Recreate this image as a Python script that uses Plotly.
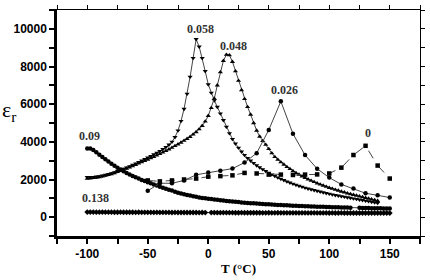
import plotly.graph_objects as go

# Temperature grid (°C)
T_dense = [-100, -97.5, -95, -92.5, -90, -87.5, -85, -82.5, -80, -77.5, -75, -72.5, -70, -67.5, -65,
           -62.5, -60, -57.5, -55, -52.5, -50, -47.5, -45, -42.5, -40, -37.5, -35, -32.5, -30, -27.5,
           -25, -22.5, -20, -17.5, -15, -12.5, -10, -7.5, -5, -2.5, 0, 2.5, 5, 7.5, 10, 12.5, 15, 17.5,
           20, 22.5, 25, 27.5, 30, 32.5, 35, 37.5, 40, 42.5, 45, 47.5, 50, 52.5, 55, 57.5, 60, 62.5, 65,
           67.5, 70, 72.5, 75, 77.5, 80, 82.5, 85, 87.5, 90, 92.5, 95, 97.5, 100, 102.5, 105, 107.5, 110,
           112.5, 115, 117.5, 120, 122.5, 125, 127.5, 130, 132.5, 135, 137.5, 140, 142.5, 145, 147.5, 150]
T_sparse = [-50, -40, -30, -20, -10, 0, 10, 20, 30, 40, 50, 60, 70, 80, 90, 100, 110, 120, 130, 140, 150]

eps_0138 = [270, 268, 270, 267, 266, 268, 265, 264, 266, 263, 262, 264, 261, 260, 262, 259, 258, 260, 257, 256, 258,
            255, 254, 256, 253, 252, 254, 251, 250, 252, 249, 248, 250, 247, 246, 248, 245, 244, 246, 243, None,
            242, 244, 241, 240, 242, 239, 238, 240, 237, 236, 238, 235, 234, 236, 233, 232, 234, 231, 230, 232,
            231, 230, 232, 229, 230, 231, 229, 228, 230, 227, 228, 229, 227, 226, 228, 225, 226, 227, 225, 224,
            226, 224, 223, 225, 222, 223, 224, 222, 221, 223, 220, 221, 222, 220, 219, 221, 218, 219, 220, 218]

eps_009 = [3650, 3640, 3570, 3450, 3310, 3190, 3070, 2950, 2840, 2730, 2630, 2530, 2440, 2350, 2270, 2190, 2120, 2050, 1980, 1920, 1860,
           1800, 1740, 1680, 1620, 1560, 1510, 1460, 1410, 1350, 1300, 1260, 1220, 1180, 1150, 1110, 1080, 1050, 1020, 1000, 980,
           960, 940, 920, 900, 880, 860, 845, 830, 815, 800, 785, 770, 757, 745, 733, 722, 711, 700, 690, 680,
           670, 661, 652, 643, 635, 627, 619, 611, 604, 597, 590, 583, 577, 571, 565, 559, 553, 547, 542, 537,
           532, 527, 522, 517, 513, 509, 505, None, None, 495, 491, 487, 483, 479, 475, 471, 467, 463, 459, 455]

eps_0058 = [2120, 2120, 2130, 2150, 2170, 2200, 2240, 2280, 2330, 2380, 2440, 2500, 2560, 2630, 2700, 2770, 2840, 2920, 3000, 3080, 3160,
            3240, 3330, 3420, 3510, 3610, 3720, 3850, 4000, 4250, 4600, 5100, 5750, 6550, 7450, 8450, 9450, 9050, 8450, 7750, 7050,
            6600, 6200, 5850, 5500, 5150, 4800, 4450, 4150, 3900, 3680, 3480, 3300, 3140, 3000, 2870, 2750, 2640, 2540, 2440, 2350,
            2260, 2180, 2100, 2030, 1960, 1890, 1830, 1770, 1710, 1660, 1610, 1560, 1510, 1470, 1430, 1390, 1350, 1310, 1270, 1240,
            1200, 1170, 1140, 1110, 1080, 1050, 1020, 990, 960, 930, 900, 870, 840, 810, 780, 750]

eps_0048 = [2050, 2060, 2080, 2100, 2130, 2160, 2200, 2240, 2290, 2340, 2400, 2460, 2520, 2580, 2640, 2710, 2780, 2850, 2920, 2990, 3060,
            3130, 3200, 3280, 3360, 3440, 3520, 3600, 3690, 3780, 3870, 3960, 4060, 4160, 4270, 4390, 4520, 4670, 4850, 5080, 5380,
            5800, 6300, 7000, 7700, 8300, 8630, 8600, 8250, 7750, 7250, 6750, 6280, 5850, 5450, 5000, 4600, 4280, 4050, 3850, 3620,
            3400, 3200, 3050, 2920, 2790, 2670, 2560, 2450, 2350, 2260, 2170, 2090, 2010, 1940, 1870, 1800, 1740, 1680, 1620, 1560,
            1510, 1460, 1410, 1360, 1320, 1270, 1230, 1190, 1150, 1110, 1070, 1030, 990, 950, 910, 870]

eps_0026 = [1400, 1800, 1800, 1950, 2250, 2370, 2470, 2580, 2900, 3400, 4630, 6150, 4430, 3300, 2570, 2100, 1740, 1520, 1270, 1160, 1040]
eps_0 = [1950, 1900, 1950, 2000, 2050, 2150, 2180, 2220, 2350, 2320, 2260, 2260, 2240, 2260, 2270, 2320, 2630, 3300, 3790, 2740, 2050]

labels = ["0.058", "0.048", "0.026", "0", "0.09", "0.138"]
label_x = [-6, 21, 63, 132, -98, -93]
label_y = [10000, 9100, 6730, 4490, 4330, 1000]

x_tickvals = [-125, -100, -75, -50, -25, 0, 25, 50, 75, 100, 125, 150, 175]
x_ticktext = ["", "-100", "", "-50", "", "0", "", "50", "", "100", "", "150", ""]
y_tickvals = [-1000, 0, 1000, 2000, 3000, 4000, 5000, 6000, 7000, 8000, 9000, 10000, 11000]
y_ticktext = ["", "0", "", "2000", "", "4000", "", "6000", "", "8000", "", "10000", ""]

LINE = "#444444"
fig = go.Figure()

fig.add_trace(go.Scatter(x=T_dense, y=eps_0138, mode="lines+markers", connectgaps=True,
                         line=dict(color=LINE, width=1),
                         marker=dict(symbol="diamond", size=4.5, color="black")))
fig.add_trace(go.Scatter(x=T_dense, y=eps_009, mode="lines+markers", connectgaps=True,
                         line=dict(color=LINE, width=1),
                         marker=dict(symbol="circle", size=4.5, color="black")))
fig.add_trace(go.Scatter(x=T_dense[:len(eps_0058)], y=eps_0058, mode="lines+markers",
                         line=dict(color=LINE, width=1),
                         marker=dict(symbol="triangle-down", size=4.5, color="black")))
fig.add_trace(go.Scatter(x=T_dense[:len(eps_0048)], y=eps_0048, mode="lines+markers",
                         line=dict(color=LINE, width=1),
                         marker=dict(symbol="triangle-up", size=4.5, color="black")))
fig.add_trace(go.Scatter(x=T_sparse, y=eps_0026, mode="lines+markers",
                         line=dict(color=LINE, width=1),
                         marker=dict(symbol="circle", size=4.5, color="black")))
fig.add_trace(go.Scatter(x=T_sparse, y=eps_0, mode="lines+markers",
                         line=dict(color=LINE, width=1, dash="dash"),
                         marker=dict(symbol="square", size=4.5, color="black")))
# invisible trace to activate the mirror axes
fig.add_trace(go.Scatter(x=[None], y=[None], xaxis="x2", yaxis="y2", showlegend=False))

for t, xx, yy in zip(labels, label_x, label_y):
    fig.add_annotation(x=xx, y=yy, text=t, showarrow=False,
                       font=dict(family="Liberation Serif", size=12, color="#333333", weight="bold"))

fig.add_annotation(xref="paper", yref="paper", x=-0.156, y=0.555, xanchor="left", yanchor="middle",
                   text="ε<sub>r</sub>", showarrow=False,
                   font=dict(family="Liberation Serif", size=22, color="black"))

tickfont = dict(family="Liberation Sans", size=12, color="black", weight="bold")
fig.update_layout(
    width=430, height=280,
    margin=dict(l=57, r=9, t=6, b=43),
    paper_bgcolor="white", plot_bgcolor="white",
    showlegend=False,
    xaxis=dict(range=[-125, 175], showline=True, linewidth=2.5, linecolor="black", mirror=False,
               ticks="outside", ticklen=5, tickwidth=1.5, tickcolor="black",
               tickvals=x_tickvals, ticktext=x_ticktext, tickfont=tickfont,
               showgrid=False, zeroline=False,
               title=dict(text="T (°C)", standoff=4,
                          font=dict(family="Liberation Serif", size=13, color="black", weight="bold"))),
    xaxis2=dict(range=[-125, 175], overlaying="x", side="top", showline=True, linewidth=1,
                linecolor="black", ticks="outside", ticklen=4, tickwidth=1, tickcolor="black",
                tickvals=x_tickvals, showticklabels=False, showgrid=False, zeroline=False),
    yaxis=dict(range=[-1000, 11000], showline=True, linewidth=2.5, linecolor="black", mirror=False,
               ticks="outside", ticklen=5, tickwidth=1.5, tickcolor="black",
               tickvals=y_tickvals, ticktext=y_ticktext, tickfont=tickfont,
               showgrid=False, zeroline=False),
    yaxis2=dict(range=[-1000, 11000], overlaying="y", side="right", showline=True, linewidth=1,
                linecolor="black", ticks="outside", ticklen=4, tickwidth=1, tickcolor="black",
                tickvals=y_tickvals, showticklabels=False, showgrid=False, zeroline=False),
)

fig.write_html("out.html")
